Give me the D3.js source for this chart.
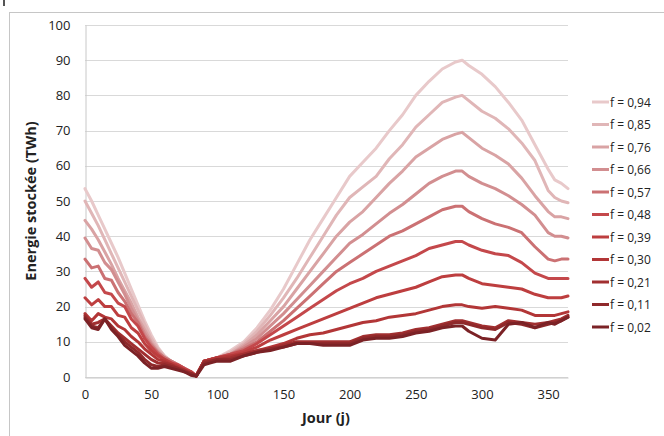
<!DOCTYPE html>
<html>
<head>
<meta charset="utf-8">
<script src="https://cdn.jsdelivr.net/npm/d3@7"></script>
<style>
  body { margin: 0; background: #fff; }
  svg { display: block; font-family: "Open Sans", sans-serif; }
</style>
</head>
<body>
<svg id="chart" width="664" height="436"></svg>
<script>
// jours (axe x)
var days = [0, 5, 10, 15, 20, 25, 30, 35, 40, 45, 50, 55, 60, 65, 70, 75, 80, 84,
  90, 95, 100, 110, 120, 130, 140, 150, 160, 170, 180, 190, 200, 210, 220, 230, 240,
  250, 260, 270, 280, 285, 290, 300, 310, 320, 330, 340, 350, 355, 360, 365];

var labels = ["f = 0,94", "f = 0,85", "f = 0,76", "f = 0,66", "f = 0,57", "f = 0,48",
  "f = 0,39", "f = 0,30", "f = 0,21", "f = 0,11", "f = 0,02"];

var colors = ["#e8c9ca", "#e0b6b7", "#d9a3a4", "#d28e90", "#cb7173", "#c4484b",
  "#bd3e3f", "#b23637", "#a12f30", "#8f292b", "#7b2226"];

// energie stockee (TWh), une liste par valeur de f
var f094 = [53.5, 50, 46, 42, 38, 34, 29.5, 25, 20.5, 16, 12, 8.5, 6, 4.5, 3.5, 2.5, 1.5, 0.3,
  4.5, 5, 5.5, 7.5, 10, 14, 19, 25, 32, 39, 45, 51, 57, 61, 65, 70, 74.5, 80, 84, 87.5, 89.5, 90, 88.5, 86, 82.5, 78, 73, 66, 59, 56, 55, 53.5];
var f085 = [50, 46.5, 43, 39, 35, 31, 27, 23, 19, 15, 11, 8, 6, 4.5, 3.5, 2.5, 1.5, 0.3,
  4.5, 5, 5.5, 7, 9.5, 13, 17.5, 22.5, 28, 34, 40, 46, 51, 54, 57, 62, 66, 71, 74.5, 78, 79.5, 80, 78.5, 75.5, 73.5, 70.5, 66.5, 61.5, 53, 51, 50, 49.5];
var f076 = [44.5, 42, 39, 35.5, 32, 28, 24.5, 21, 17, 13.5, 10, 7.5, 5.5, 4.5, 3.5, 2.5, 1.5, 0.3,
  4.5, 5, 5.5, 6.5, 9, 12, 16, 20, 25, 30, 35, 40, 44, 47, 51, 55, 58.5, 62.5, 65, 67.5, 69, 69.5, 68, 65, 63, 60.5, 56.5, 51.5, 47, 45.5, 45.5, 45];
var f066 = [39.5, 36.5, 36, 32.5, 30.5, 27, 23.5, 19.5, 16, 12.5, 9.5, 7, 5.5, 4.5, 3.5, 2.5, 1.5, 0.3,
  4.5, 5, 5.5, 6.5, 8.5, 11, 14.5, 18, 22, 26, 30, 34, 38, 40.5, 43.5, 46.5, 49, 52, 55, 57, 58.5, 58.5, 57, 55, 53.5, 51.5, 49, 46, 41, 40, 40, 39.5];
var f057 = [33.5, 31, 31.5, 28, 27.5, 24, 21.5, 18, 15.5, 11.5, 9, 7, 5.5, 4.5, 3.5, 2.5, 1.5, 0.3,
  4.5, 5, 5.5, 6.5, 8, 10, 13, 16, 19.5, 23, 26.5, 30, 32.5, 35, 37.5, 40, 41.5, 43.5, 45.5, 47.5, 48.5, 48.5, 47, 45, 43.5, 42.5, 41, 37, 33.5, 33, 33.5, 33.5];
var f048 = [28, 25.5, 27, 24, 23.5, 21, 20, 16.5, 14.5, 11, 8.5, 6.5, 5, 4, 3.5, 2.5, 1.5, 0.3,
  4.5, 5, 5.5, 6.5, 7.5, 9.5, 12, 14.5, 17, 19.5, 22, 24.5, 26.5, 28, 30, 31.5, 33, 34.5, 36.5, 37.5, 38.5, 38.5, 37.5, 36, 35, 34.5, 32.5, 29.5, 28, 28, 28, 28];
var f039 = [22.5, 20.5, 22, 20, 20, 17.5, 17, 14, 12.5, 9.5, 7.5, 6, 5, 4, 3, 2, 1.5, 0.3,
  4.5, 5, 5.5, 6, 7, 8.5, 10.5, 12, 13.5, 15, 16.5, 18, 19.5, 21, 22.5, 23.5, 24.5, 25.5, 27, 28.5, 29, 29, 28, 26.5, 26, 25.5, 25, 23.5, 22.5, 22.5, 22.5, 23];
var f030 = [18, 16, 18, 17, 16.5, 14.5, 13.5, 11.5, 10, 8, 6.5, 5, 4.5, 3.5, 3, 2, 1, 0.3,
  4.5, 5, 5.5, 6, 6.5, 7.5, 8.5, 9.5, 11, 12, 12.5, 13.5, 14.5, 15.5, 16, 17, 17.5, 18, 19, 20, 20.5, 20.5, 20, 19.5, 20, 19.5, 19, 17.5, 17.5, 17.5, 18, 18.5];
var f021 = [17.5, 15, 15.5, 16.5, 14.5, 12.5, 11, 9.5, 8, 6.5, 5, 4, 4, 3.5, 2.5, 2, 1, 0.3,
  4.5, 4.5, 5, 5.5, 6.5, 7.5, 8, 9, 10, 10, 10, 10, 10, 11.5, 12, 12, 12.5, 13.5, 14, 15, 16, 16, 15.5, 14.5, 14, 16, 15.5, 15, 15.5, 16, 16.5, 17.5];
var f011 = [17, 14.5, 14, 16.5, 14, 12, 10, 8.5, 7, 5, 3.5, 3, 3.5, 3, 2.5, 1.5, 1, 0.3,
  4, 4.5, 5, 5, 6, 7, 8, 8.5, 9.5, 9.5, 9.5, 9.5, 9.5, 11, 11.5, 11.5, 12, 13, 13.5, 14.5, 15.5, 15.5, 15, 14, 13.5, 15.5, 15, 14, 15, 15.5, 16, 17];
var f002 = [16.5, 14, 13.5, 16.5, 13.5, 11.5, 9, 7.5, 6, 4, 2.5, 2.5, 3, 2.5, 2, 1.5, 0.5, 0.2,
  3.5, 4, 4.5, 4.5, 6, 7, 7.5, 8.5, 9.5, 9.5, 9, 9, 9, 10.5, 11, 11, 11.5, 12.5, 13, 14, 14.5, 14.5, 13, 11, 10.5, 15, 15.5, 14, 15.5, 15, 16, 17];

var seriesValues = [f094, f085, f076, f066, f057, f048, f039, f030, f021, f011, f002];

var xTicks = [0, 50, 100, 150, 200, 250, 300, 350];
var yTicks = [0, 10, 20, 30, 40, 50, 60, 70, 80, 90, 100];

var svg = d3.select("#chart");

// cadre du graphique
svg.append("rect")
  .attr("x", 9.5).attr("y", 12.5)
  .attr("width", 700).attr("height", 500)
  .attr("fill", "none")
  .attr("stroke", "#c6c6c6");
svg.append("rect")
  .attr("x", 3).attr("y", 0).attr("width", 2).attr("height", 6)
  .attr("fill", "#555");

var x = d3.scaleLinear().domain([0, 365]).range([85, 568]);
var y = d3.scaleLinear().domain([0, 100]).range([377, 25]);

// grille horizontale
svg.append("g")
  .selectAll("line")
  .data(yTicks)
  .join("line")
  .attr("x1", 85).attr("x2", 568)
  .attr("y1", d => Math.round(y(d)) + 0.5)
  .attr("y2", d => Math.round(y(d)) + 0.5)
  .attr("stroke", "#d9d9d9")
  .attr("stroke-width", 1);

// axe y
var yAxis = svg.append("g")
  .attr("transform", "translate(85.5,0)")
  .call(d3.axisLeft(y).tickValues(yTicks).tickSize(0).tickPadding(15));
yAxis.select(".domain").attr("stroke", "#c8c8c8");
yAxis.selectAll("text")
  .attr("fill", "#222")
  .style("font-size", "13px")
  .style("font-family", "Open Sans, sans-serif");

// axe x
var xAxis = svg.append("g")
  .attr("transform", "translate(0,377.5)")
  .call(d3.axisBottom(x).tickValues(xTicks).tickSize(0).tickPadding(12));
xAxis.select(".domain").attr("stroke", "#c8c8c8");
xAxis.selectAll("text")
  .attr("fill", "#222")
  .style("font-size", "13px")
  .style("font-family", "Open Sans, sans-serif");

// titres des axes
svg.append("text")
  .attr("transform", "translate(36,201) rotate(-90)")
  .attr("text-anchor", "middle")
  .style("font-size", "14.5px")
  .style("font-weight", "bold")
  .attr("fill", "#222")
  .text("Energie stockée (TWh)");

svg.append("text")
  .attr("x", 326).attr("y", 423)
  .attr("text-anchor", "middle")
  .style("font-size", "14.5px")
  .style("font-weight", "bold")
  .attr("fill", "#222")
  .text("Jour (j)");

// courbes
var line = d3.line()
  .x((d, i) => x(days[i]))
  .y(d => y(d));

svg.append("g")
  .selectAll("path")
  .data(seriesValues)
  .join("path")
  .attr("d", d => line(d))
  .attr("fill", "none")
  .attr("stroke", (d, i) => colors[i])
  .attr("stroke-width", 3)
  .attr("stroke-linejoin", "round")
  .attr("stroke-linecap", "round");

// legende
var legend = svg.append("g")
  .selectAll("g")
  .data(labels)
  .join("g")
  .attr("transform", (d, i) => `translate(592,${102 + i * 22.5})`);

legend.append("line")
  .attr("x1", 0).attr("x2", 17)
  .attr("y1", 0).attr("y2", 0)
  .attr("stroke", (d, i) => colors[i])
  .attr("stroke-width", 3);

legend.append("text")
  .attr("x", 18).attr("y", 4.5)
  .style("font-size", "12px")
  .attr("fill", "#222")
  .text(d => d);
</script>
</body>
</html>
